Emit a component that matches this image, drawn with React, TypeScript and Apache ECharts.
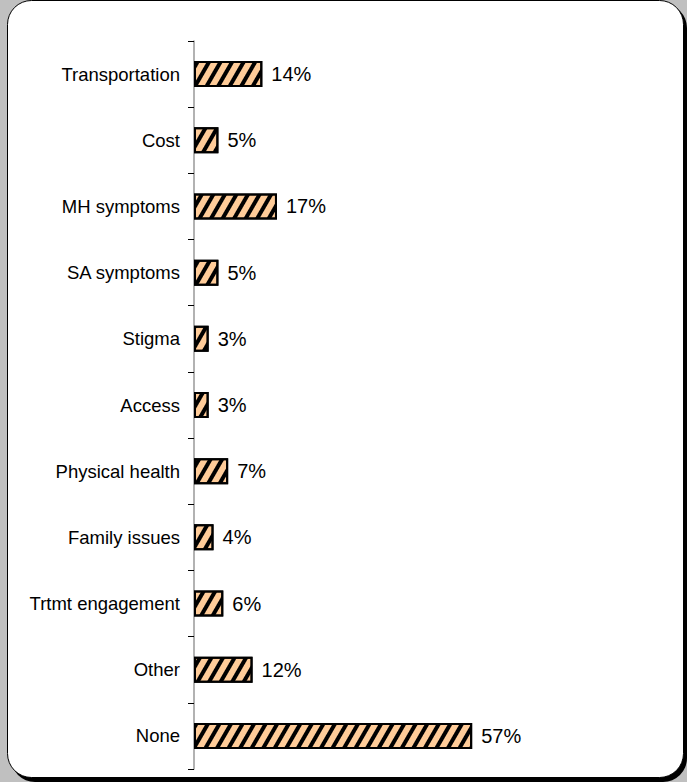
import React, { useEffect, useRef } from "react";
import * as echarts from "echarts";

const categories = [
  "Transportation",
  "Cost",
  "MH symptoms",
  "SA symptoms",
  "Stigma",
  "Access",
  "Physical health",
  "Family issues",
  "Trtmt engagement",
  "Other",
  "None",
];
const values = [14, 5, 17, 5, 3, 3, 7, 4, 6, 12, 57];

export default function App() {
  const ref = useRef<HTMLDivElement>(null);
  useEffect(() => {
    document.body.style.margin = "0";
    const chart = echarts.init(ref.current!, null, { renderer: "svg" });
    chart.setOption({
      animation: false,
      backgroundColor: "#c0c0c0",
      graphic: [
        {
          type: "rect",
          z: -10,
          silent: true,
          shape: { x: 11, y: 4, width: 676, height: 778, r: 24 },
          style: { fill: "#000" },
        },
        {
          type: "rect",
          z: -9,
          silent: true,
          shape: { x: 7.5, y: 0.5, width: 676, height: 777, r: 24 },
          style: { fill: "#fff", stroke: "#000", lineWidth: 1 },
        },
      ],
      grid: { left: 194, top: 41, height: 728, width: 488 },
      xAxis: {
        type: "value",
        min: 0,
        max: 100,
        show: false,
      },
      yAxis: {
        type: "category",
        data: categories,
        inverse: true,
        axisLine: { show: true, lineStyle: { color: "#999", width: 1.5 } },
        axisTick: { show: true, length: 6, lineStyle: { color: "#000", width: 1 } },
        axisLabel: {
          margin: 14,
          fontFamily: "Liberation Sans, Arial, sans-serif",
          fontSize: 18.5,
          color: "#000",
        },
      },
      series: [
        {
          type: "bar",
          data: values,
          barWidth: 26,
          itemStyle: {
            color: "#ffcc99",
            borderColor: "#000",
            borderWidth: 2,
            decal: {
              symbol: "rect",
              symbolSize: 1,
              color: "#000",
              dashArrayX: [1, 0],
              dashArrayY: [3.5, 5.2],
              rotation: -Math.PI / 3,
            },
          },
          label: {
            show: true,
            position: "right",
            distance: 9,
            formatter: "{c}%",
            fontFamily: "Liberation Sans, Arial, sans-serif",
            fontSize: 20,
            color: "#000",
          },
        },
      ],
    });
    return () => chart.dispose();
  }, []);
  return <div ref={ref} style={{ width: 687, height: 782 }} />;
}
